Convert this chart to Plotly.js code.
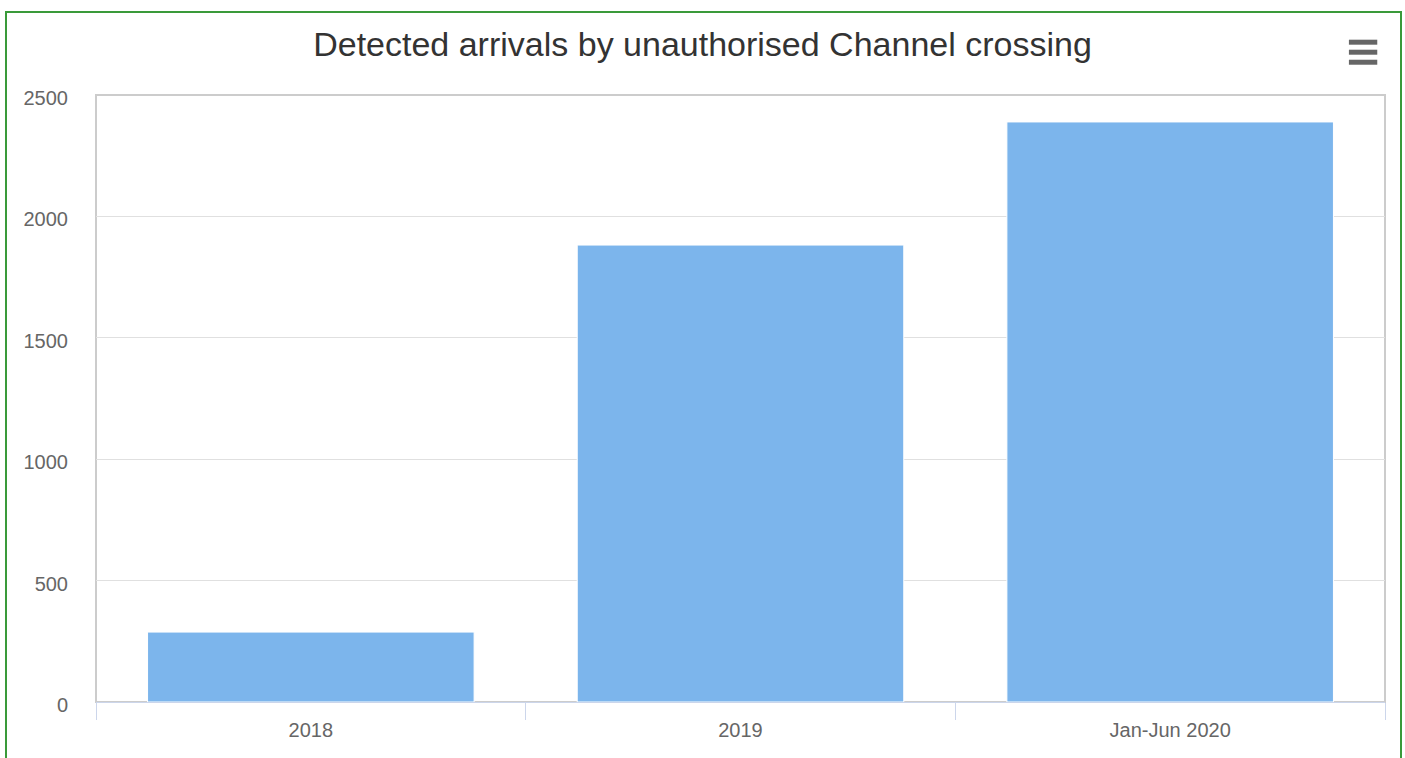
<!DOCTYPE html>
<html>
<head>
<meta charset="utf-8">
<script src="https://cdn.plot.ly/plotly-3.0.1.min.js"></script>
<style>
  html, body { margin: 0; padding: 0; background: #fff; overflow: hidden; }
  #chart { position: absolute; left: 0; top: 0; width: 1405px; height: 758px; }
  #frame { position: absolute; left: 5px; top: 11px; width: 1393px; height: 760px;
           border: 2px solid #3a9a3a; pointer-events: none; }
</style>
</head>
<body>
<div id="chart"></div>
<div id="frame"></div>
<script>
const categories = ["2018", "2019", "Jan-Jun 2020"];
const arrivals = [288, 1882, 2389];
const yTicks = [0, 500, 1000, 1500, 2000, 2500];
const chartTitle = "Detected arrivals by unauthorised Channel crossing";

const trace = {
  type: "bar",
  x: categories,
  y: arrivals,
  marker: { color: "#7cb5ec", line: { color: "#ffffff", width: 1 } },
  hoverinfo: "x+y"
};

const layout = {
  width: 1405,
  height: 758,
  margin: { l: 96, r: 20, t: 95, b: 56 },
  paper_bgcolor: "#ffffff",
  plot_bgcolor: "#ffffff",
  showlegend: false,
  bargap: 0.24,
  font: { family: "Liberation Sans, Arial, sans-serif", color: "#666666" },
  title: {
    text: chartTitle,
    font: { size: 34, color: "#333333", family: "Liberation Sans, Arial, sans-serif" },
    x: 0.5, xanchor: "center",
    y: 1 - 44 / 758, yanchor: "middle"
  },
  xaxis: {
    type: "category",
    showgrid: false,
    showline: true,
    linecolor: "#ccd6eb",
    linewidth: 1,
    ticks: "outside",
    tickson: "boundaries",
    ticklen: 17,
    tickcolor: "#ccd6eb",
    ticklabelstandoff: 10,
    tickfont: { size: 20, color: "#666666" },
    zeroline: false
  },
  yaxis: {
    range: [0, 2500],
    tickvals: yTicks,
    ticktext: yTicks.map(String),
    showgrid: true,
    gridcolor: "#e0e0e0",
    gridwidth: 1,
    zeroline: false,
    showline: false,
    ticks: "",
    ticklabelstandoff: 27,
    ticklabelshift: 3,
    tickfont: { size: 20, color: "#666666" }
  },
  shapes: [
    { type: "rect", xref: "paper", yref: "paper", x0: 0, x1: 1, y0: 0, y1: 1,
      line: { color: "#cccccc", width: 2 }, fillcolor: "rgba(0,0,0,0)", layer: "below" },
    { type: "line", xref: "paper", yref: "paper", x0: 0.972, x1: 0.994, y0: 1.054, y1: 1.054,
      line: { color: "#666666", width: 5 } },
    { type: "line", xref: "paper", yref: "paper", x0: 0.972, x1: 0.994, y0: 1.0705, y1: 1.0705,
      line: { color: "#666666", width: 5 } },
    { type: "line", xref: "paper", yref: "paper", x0: 0.972, x1: 0.994, y0: 1.087, y1: 1.087,
      line: { color: "#666666", width: 5 } }
  ]
};

Plotly.newPlot("chart", [trace], layout, { displayModeBar: false, responsive: false });
</script>
</body>
</html>
